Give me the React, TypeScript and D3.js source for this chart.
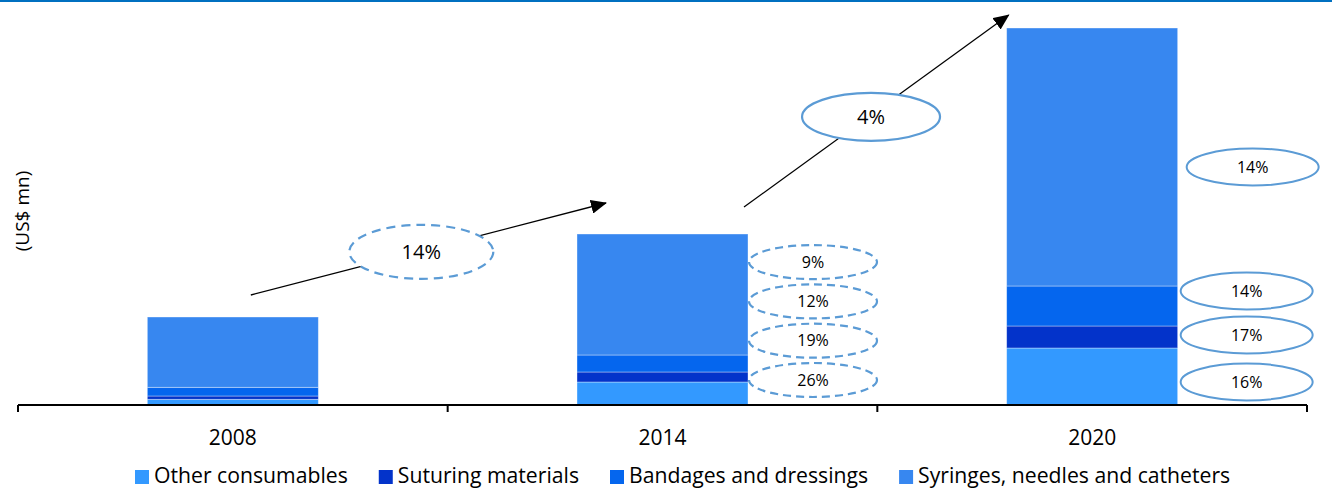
import React, { useEffect, useRef } from "react";
import * as d3 from "d3";

// Market size by product segment (US$ mn)
const categories = ["2008", "2014", "2020"];
const seriesNames = [
  "Other consumables",
  "Suturing materials",
  "Bandages and dressings",
  "Syringes, needles and catheters",
];
const otherConsumables = [5.7, 23, 57];
const suturingMaterials = [3.3, 10, 22];
const bandagesDressings = [8.7, 17, 40];
const syringesNeedles = [70.3, 121, 258];
const seriesColors = ["#3399FF", "#0333CA", "#0566EE", "#3787F0"];

// Growth call-outs
const periodGrowth = ["14%", "4%"];
// segment CAGRs, listed top to bottom
const segmentGrowth2014 = ["9%", "12%", "19%", "26%"];
const segmentGrowth2020 = ["14%", "14%", "17%", "16%"];
// vertical anchors (value units) for the 2020 segment call-outs, top to bottom
const growthAnchors2020 = [238, 114, 70, 23];

const W = 1332;
const H = 488;
const FONT = "'Open Sans', 'Noto Sans', sans-serif";
const CALLOUT = "#5B9BD5";

export default function App() {
  const ref = useRef<SVGSVGElement>(null);

  useEffect(() => {
    const svg = d3.select(ref.current);
    svg.selectAll("*").remove();

    const rows = categories.map((c, i) => ({
      category: c,
      [seriesNames[0]]: otherConsumables[i],
      [seriesNames[1]]: suturingMaterials[i],
      [seriesNames[2]]: bandagesDressings[i],
      [seriesNames[3]]: syringesNeedles[i],
    }));
    const totals = rows.map((r) => seriesNames.reduce((s, k) => s + (r as any)[k], 0));

    const x = d3.scaleBand<string>().domain(categories).range([18, 1307]).paddingInner(0).paddingOuter(0);
    const y = d3.scaleLinear().domain([0, 400]).range([405, 5]);
    const barW = x.bandwidth() * 0.398;
    const barX = (c: string) => (x(c) as number) + (x.bandwidth() - barW) / 2;
    const color = d3.scaleOrdinal<string, string>().domain(seriesNames).range(seriesColors);

    // top rule
    svg.append("rect").attr("x", 0).attr("y", 0).attr("width", W).attr("height", 2).attr("fill", "#0070C0");

    // stacked bars
    const stacked = d3.stack<any>().keys(seriesNames)(rows);
    const layers = svg.append("g").selectAll("g").data(stacked).join("g").attr("fill", (d) => color(d.key));
    layers
      .selectAll("rect")
      .data((d) => d)
      .join("rect")
      .attr("x", (d: any) => barX(d.data.category))
      .attr("width", barW)
      .attr("y", (d) => y(d[1]))
      .attr("height", (d) => y(d[0]) - y(d[1]))
      .attr("stroke", "rgba(255,255,255,0.45)")
      .attr("stroke-width", 0.8);

    // axis
    const axis = svg.append("g").attr("stroke", "#000");
    axis.append("line").attr("x1", 18).attr("x2", 1307).attr("y1", y(0)).attr("y2", y(0)).attr("stroke-width", 2);
    const bounds = [...categories.map((c) => x(c) as number), x.range()[1]];
    axis
      .selectAll("line.tick")
      .data(bounds)
      .join("line")
      .attr("class", "tick")
      .attr("x1", (d) => d)
      .attr("x2", (d) => d)
      .attr("y1", y(0))
      .attr("y2", y(0) + 7)
      .attr("stroke-width", 2);
    svg
      .append("g")
      .selectAll("text")
      .data(categories)
      .join("text")
      .attr("x", (c) => (x(c) as number) + x.bandwidth() / 2)
      .attr("y", 445)
      .attr("text-anchor", "middle")
      .attr("font-family", FONT)
      .attr("font-size", 21)
      .attr("fill", "#000")
      .text((d) => d);

    // y-axis title
    svg
      .append("text")
      .attr("transform", `translate(29,211) rotate(-90)`)
      .attr("text-anchor", "middle")
      .attr("font-family", FONT)
      .attr("font-size", 19)
      .attr("fill", "#000")
      .text("(US$ mn)");

    // growth arrows
    const defs = svg.append("defs");
    defs
      .append("marker")
      .attr("id", "arrowhead")
      .attr("markerUnits", "userSpaceOnUse")
      .attr("viewBox", "0 0 16 14")
      .attr("markerWidth", 16)
      .attr("markerHeight", 14)
      .attr("refX", 15)
      .attr("refY", 7)
      .attr("orient", "auto")
      .append("path")
      .attr("d", "M0,0 L16,7 L0,14 Z")
      .attr("fill", "#000");

    const c0 = categories[0], c1 = categories[1], c2 = categories[2];
    const arrows = [
      {
        x1: (x(c0) as number) + x.bandwidth() / 2 + 18,
        y1: y(totals[0] + 22),
        x2: barX(c1) + 29,
        y2: y(totals[1] + 31),
        label: periodGrowth[0],
        dashed: true,
      },
      {
        x1: barX(c1) + barW - 4,
        y1: y(totals[1] + 27),
        x2: barX(c2) + 2,
        y2: y(totals[2] + 13),
        label: periodGrowth[1],
        dashed: false,
      },
    ];
    arrows.forEach((a) => {
      svg
        .append("line")
        .attr("x1", a.x1)
        .attr("y1", a.y1)
        .attr("x2", a.x2)
        .attr("y2", a.y2)
        .attr("stroke", "#000")
        .attr("stroke-width", 1.3)
        .attr("marker-end", "url(#arrowhead)");
      const t = 0.48;
      const cx = a.x1 + (a.x2 - a.x1) * t;
      const cy = a.y1 + (a.y2 - a.y1) * t + (a.dashed ? 1 : 2);
      svg
        .append("ellipse")
        .attr("cx", cx)
        .attr("cy", cy)
        .attr("rx", a.dashed ? 72 : 69)
        .attr("ry", a.dashed ? 27 : 24)
        .attr("fill", "#fff")
        .attr("stroke", CALLOUT)
        .attr("stroke-width", 2.2)
        .attr("stroke-dasharray", a.dashed ? "9,6" : null);
      svg
        .append("text")
        .attr("x", cx)
        .attr("y", cy)
        .attr("dy", "0.35em")
        .attr("text-anchor", "middle")
        .attr("font-family", FONT)
        .attr("font-size", 20)
        .attr("fill", "#000")
        .text(a.label);
    });

    // 2014 segment call-outs (dashed)
    const g14 = svg.append("g");
    segmentGrowth2014.forEach((lab, i) => {
      const n = segmentGrowth2014.length - 1 - i;
      const cx = barX(c1) + barW + 65;
      const cy = y(0) - 25 - n * 39.3;
      g14
        .append("ellipse")
        .attr("cx", cx)
        .attr("cy", cy)
        .attr("rx", 64)
        .attr("ry", 17)
        .attr("fill", "none")
        .attr("stroke", CALLOUT)
        .attr("stroke-width", 2.2)
        .attr("stroke-dasharray", "8,5");
      g14
        .append("text")
        .attr("x", cx)
        .attr("y", cy)
        .attr("dy", "0.35em")
        .attr("text-anchor", "middle")
        .attr("font-family", FONT)
        .attr("font-size", 16)
        .attr("fill", "#000")
        .text(lab);
    });

    // 2020 segment call-outs (solid)
    const g20 = svg.append("g");
    segmentGrowth2020.forEach((lab, i) => {
      const cx = barX(c2) + barW + (i === 0 ? 75 : 69);
      const cy = y(growthAnchors2020[i]);
      g20
        .append("ellipse")
        .attr("cx", cx)
        .attr("cy", cy)
        .attr("rx", 66)
        .attr("ry", 18.5)
        .attr("fill", "#fff")
        .attr("stroke", CALLOUT)
        .attr("stroke-width", 2);
      g20
        .append("text")
        .attr("x", cx)
        .attr("y", cy)
        .attr("dy", "0.35em")
        .attr("text-anchor", "middle")
        .attr("font-family", FONT)
        .attr("font-size", 16)
        .attr("fill", "#000")
        .text(lab);
    });

    // legend
    const legend = svg.append("g");
    let lx = 135;
    seriesNames.forEach((name) => {
      legend.append("rect").attr("x", lx).attr("y", 470).attr("width", 14).attr("height", 14).attr("fill", color(name));
      const t = legend
        .append("text")
        .attr("x", lx + 19)
        .attr("y", 483)
        .attr("font-family", FONT)
        .attr("font-size", 21.2)
        .attr("fill", "#000")
        .text(name);
      const w = (t.node() as SVGTextElement).getComputedTextLength();
      lx = lx + 19 + w + 31;
    });
  }, []);

  return (
    <svg
      ref={ref}
      width={W}
      height={H}
      style={{ position: "fixed", left: 0, top: 0, background: "#fff", display: "block" }}
    />
  );
}
